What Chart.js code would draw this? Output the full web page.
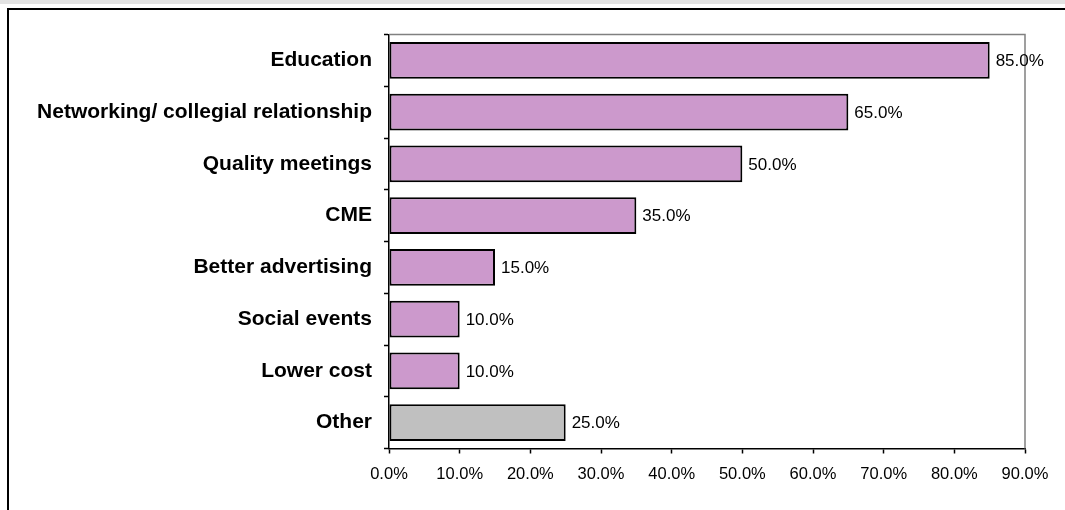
<!DOCTYPE html>
<html>
<head>
<meta charset="utf-8">
<script src="https://cdn.jsdelivr.net/npm/chart.js@4"></script>
<style>
  html, body { margin: 0; padding: 0; background: #fff; }
  body { width: 1065px; height: 510px; position: relative; overflow: hidden; }
  #strip { position: absolute; left: 0; top: 0; width: 1065px; height: 4px; background: #e3e3e3; }
  #frame { position: absolute; left: 7px; top: 8px; width: 1100px; height: 600px;
           border-left: 2px solid #000; border-top: 2px solid #000; }
  #wrap { position: absolute; left: 0; top: 0; width: 1065px; height: 510px; }
</style>
</head>
<body>
<div id="strip"></div>
<div id="frame"></div>
<div id="wrap"><canvas id="c" width="1065" height="510"></canvas></div>
<script>
const categories = ["Education", "Networking/ collegial relationship", "Quality meetings", "CME",
                    "Better advertising", "Social events", "Lower cost", "Other"];
const values = [85, 65, 50, 35, 15, 10, 10, 25];
const barColors = ["#CC99CC", "#CC99CC", "#CC99CC", "#CC99CC", "#CC99CC", "#CC99CC", "#CC99CC", "#C0C0C0"];
const xTickMin = 0, xTickMax = 90, xTickStep = 10;

const FONT = "'Liberation Sans', Arial, sans-serif";

const valueLabels = {
  id: 'valueLabels',
  afterDatasetsDraw(chart) {
    const ctx = chart.ctx;
    const meta = chart.getDatasetMeta(0);
    ctx.save();
    ctx.font = "17px " + FONT;
    ctx.fillStyle = "#000";
    ctx.textAlign = "left";
    ctx.textBaseline = "middle";
    meta.data.forEach((el, i) => {
      ctx.fillText(values[i].toFixed(1) + "%", el.x + 6, el.y + 1);
    });
    ctx.restore();
  }
};

const plotBorder = {
  id: 'plotBorder',
  beforeDatasetsDraw(chart) {
    const a = chart.chartArea, ctx = chart.ctx;
    ctx.save();
    ctx.strokeStyle = "#808080";
    ctx.lineWidth = 1.5;
    ctx.beginPath();
    ctx.moveTo(a.left, a.top);
    ctx.lineTo(a.right, a.top);
    ctx.lineTo(a.right, a.bottom);
    ctx.stroke();
    ctx.restore();
  }
};

new Chart(document.getElementById('c'), {
  type: 'bar',
  data: {
    labels: categories,
    datasets: [{
      data: values,
      backgroundColor: barColors,
      borderColor: "#000",
      borderWidth: 2,
      borderSkipped: false,
      barPercentage: 0.71,
      categoryPercentage: 1.0
    }]
  },
  options: {
    indexAxis: 'y',
    responsive: false,
    animation: false,
    devicePixelRatio: 1,
    layout: { padding: { top: 34.5, right: 40, left: 0, bottom: 0 } },
    plugins: { legend: { display: false }, tooltip: { enabled: false } },
    scales: {
      x: {
        min: xTickMin, max: xTickMax,
        grid: { drawOnChartArea: false, color: "#000", tickLength: 5, tickWidth: 1.5 },
        border: { color: "#000", width: 1.5 },
        ticks: {
          stepSize: xTickStep, color: "#000", padding: 11,
          font: { family: FONT, size: 16.5 },
          callback: v => v.toFixed(1) + "%"
        },
        afterFit(scale) { scale.height = 510 - 34.5 - 414; }
      },
      y: {
        offset: true,
        grid: { drawOnChartArea: false, offset: true, color: "#000", tickLength: 5, tickWidth: 1.5 },
        border: { color: "#000", width: 1.5 },
        ticks: { color: "#000", padding: 12, font: { family: FONT, size: 21, weight: 'bold' } },
        afterFit(scale) { scale.width = 389; }
      }
    }
  },
  plugins: [plotBorder, valueLabels]
});
</script>
</body>
</html>
